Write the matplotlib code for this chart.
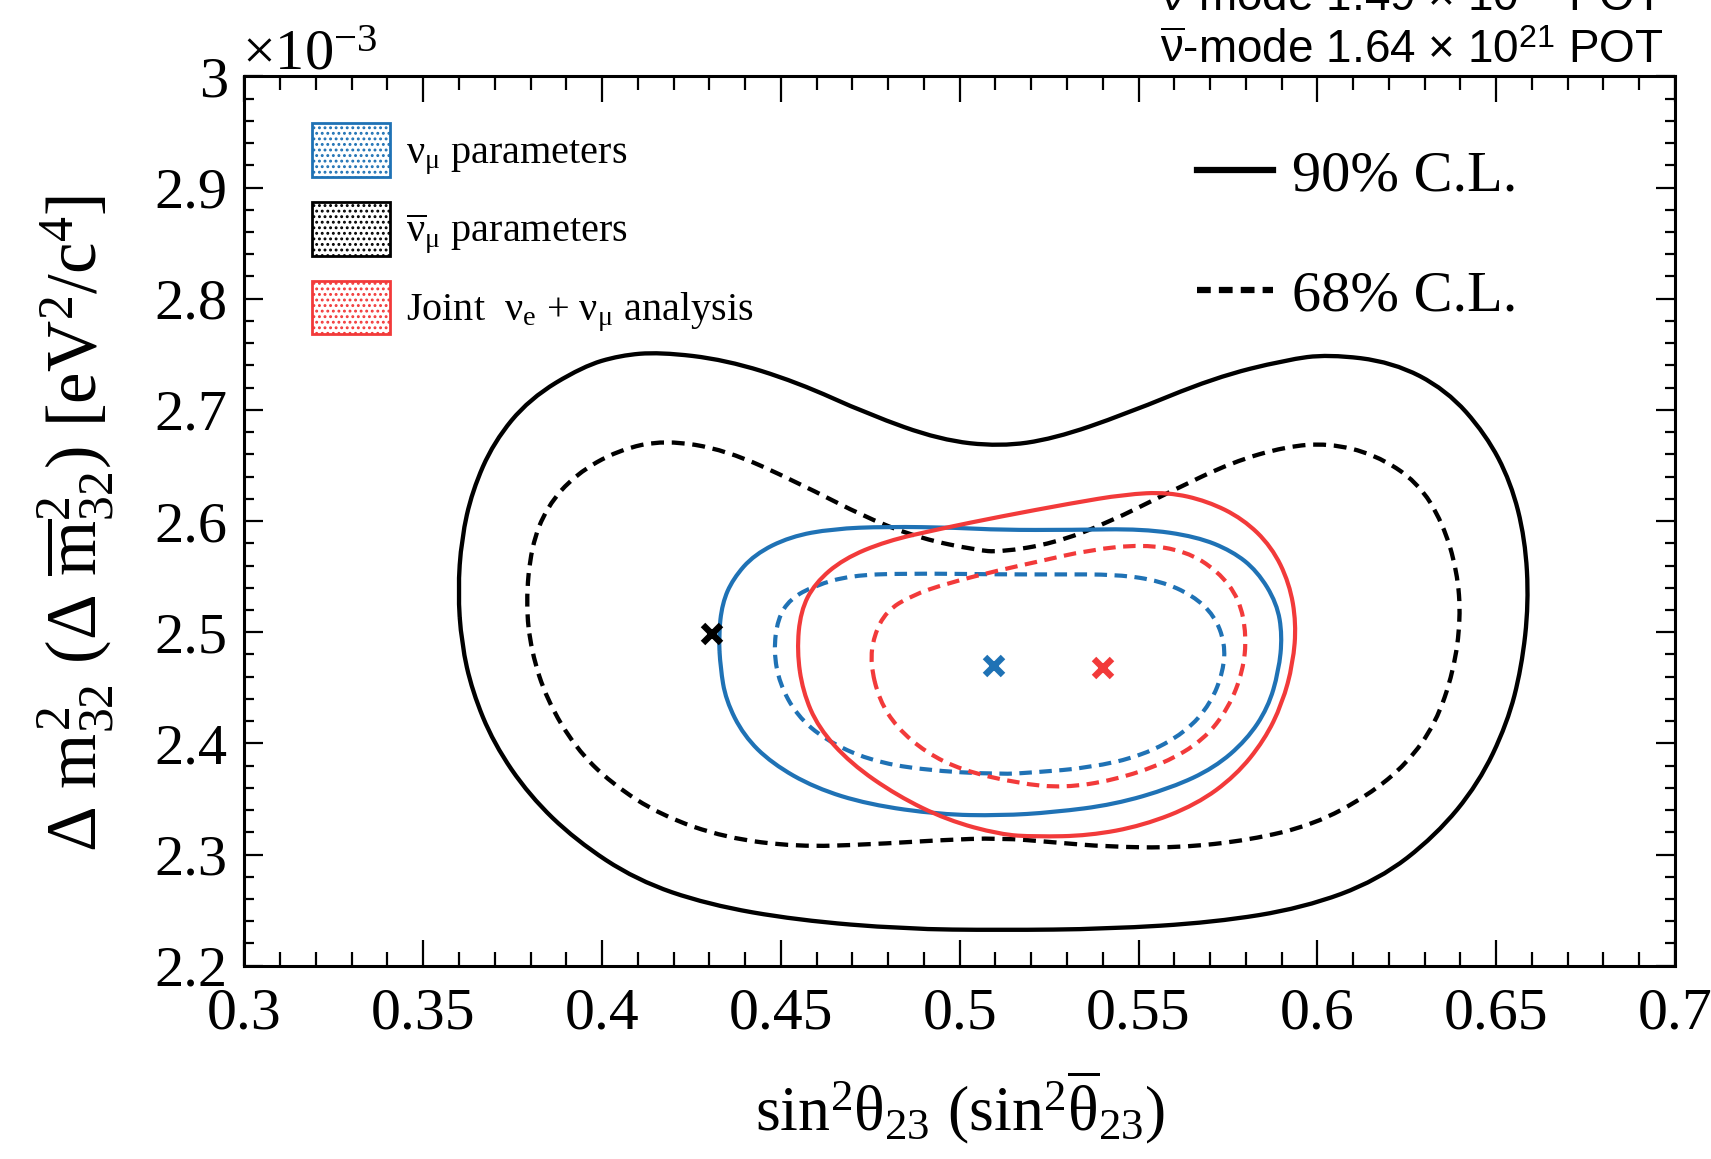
import matplotlib
matplotlib.use("Agg")
import matplotlib.pyplot as plt
from matplotlib.patches import Patch, PathPatch
from matplotlib.path import Path
from matplotlib.lines import Line2D
from matplotlib.ticker import MultipleLocator, FuncFormatter

plt.rcParams.update({
    "font.family": "Liberation Serif",
    "mathtext.fontset": "custom",
    "mathtext.rm": "Liberation Serif",
    "mathtext.it": "Liberation Serif",
    "mathtext.bf": "Liberation Serif:bold",
    "mathtext.sf": "Liberation Sans",
    "hatch.linewidth": 1.3,
})

# ---- contour data: sin^2(theta23) vs dm^2_32 [1e-3 eV^2/c^4] ----
# anti-neutrino parameters, 90% C.L.
anu90_x = [0.3597, 0.3607, 0.3637, 0.3697, 0.3797, 0.3946, 0.4050, 0.4161, 0.4346, 0.4545,
           0.4745, 0.4945, 0.5113, 0.5263, 0.5462, 0.5712, 0.5912, 0.6031, 0.6211, 0.6361,
           0.6471, 0.6541, 0.6581, 0.6591, 0.6571, 0.6531, 0.6451, 0.6331, 0.6171, 0.5961,
           0.5712, 0.5412, 0.5113, 0.4845, 0.4545, 0.4296, 0.4096, 0.3926, 0.3797, 0.3697,
           0.3637, 0.3607]
anu90_y = [2.537, 2.584, 2.627, 2.671, 2.710, 2.739, 2.749, 2.752, 2.745, 2.725,
           2.696, 2.673, 2.667, 2.674, 2.696, 2.729, 2.745, 2.750, 2.743, 2.718,
           2.678, 2.635, 2.584, 2.526, 2.468, 2.418, 2.364, 2.317, 2.277, 2.252,
           2.239, 2.233, 2.232, 2.233, 2.241, 2.255, 2.277, 2.313, 2.353, 2.400,
           2.447, 2.490]

# anti-neutrino parameters, 68% C.L.
anu68_x = [0.3787, 0.3802, 0.3846, 0.3926, 0.4046, 0.4176, 0.4346, 0.4545, 0.4745, 0.4895,
           0.5045, 0.5113, 0.5263, 0.5412, 0.5592, 0.5762, 0.5912, 0.6031, 0.6161, 0.6281,
           0.6351, 0.6391, 0.6401, 0.6381, 0.6331, 0.6251, 0.6141, 0.5991, 0.5811, 0.5612,
           0.5412, 0.5263, 0.5113, 0.4945, 0.4745, 0.4545, 0.4346, 0.4166, 0.4026, 0.3926,
           0.3846, 0.3802]
anu68_y = [2.526, 2.577, 2.613, 2.642, 2.664, 2.673, 2.664, 2.635, 2.602, 2.584,
           2.574, 2.572, 2.580, 2.598, 2.627, 2.653, 2.667, 2.670, 2.660, 2.635,
           2.598, 2.555, 2.512, 2.465, 2.418, 2.382, 2.353, 2.327, 2.313, 2.306,
           2.307, 2.311, 2.315, 2.313, 2.309, 2.307, 2.315, 2.335, 2.364, 2.396,
           2.439, 2.483]

# neutrino parameters, 90% C.L.
nu90_x = [0.4326, 0.4336, 0.4366, 0.4426, 0.4526, 0.4645, 0.4795, 0.4995, 0.5113, 0.5313,
          0.5512, 0.5662, 0.5762, 0.5832, 0.5887, 0.5902, 0.5892, 0.5862, 0.5802, 0.5712,
          0.5592, 0.5432, 0.5263, 0.5113, 0.4945, 0.4745, 0.4595, 0.4475, 0.4396, 0.4346,
          0.4331]
nu90_y = [2.497, 2.526, 2.548, 2.570, 2.586, 2.593, 2.595, 2.594, 2.592, 2.592,
          2.593, 2.586, 2.573, 2.555, 2.526, 2.497, 2.465, 2.432, 2.403, 2.378,
          2.360, 2.345, 2.338, 2.335, 2.336, 2.345, 2.360, 2.382, 2.407, 2.439,
          2.468]

# neutrino parameters, 68% C.L.
nu68_x = [0.4480, 0.4491, 0.4526, 0.4595, 0.4695, 0.4845, 0.5113, 0.5263, 0.5442, 0.5562,
          0.5652, 0.5712, 0.5742, 0.5737, 0.5702, 0.5632, 0.5512, 0.5362, 0.5212, 0.5113,
          0.4895, 0.4745, 0.4625, 0.4545, 0.4496]
nu68_y = [2.483, 2.512, 2.530, 2.542, 2.551, 2.553, 2.552, 2.552, 2.552, 2.546,
          2.533, 2.515, 2.490, 2.465, 2.436, 2.410, 2.389, 2.378, 2.374, 2.372,
          2.376, 2.385, 2.403, 2.425, 2.454]

# joint nu_e + nu_mu analysis, 90% C.L.
joint90_x = [0.4545, 0.4555, 0.4595, 0.4675, 0.4795, 0.4945, 0.5113, 0.5312, 0.5462, 0.5582,
             0.5692, 0.5792, 0.5872, 0.5922, 0.5941, 0.5932, 0.5902, 0.5852, 0.5772, 0.5662,
             0.5512, 0.5362, 0.5212, 0.5113, 0.4965, 0.4825, 0.4695, 0.4605, 0.4561]
joint90_y = [2.483, 2.519, 2.544, 2.566, 2.582, 2.593, 2.604, 2.616, 2.624, 2.626,
             2.618, 2.602, 2.577, 2.544, 2.508, 2.472, 2.436, 2.403, 2.371, 2.345,
             2.326, 2.317, 2.316, 2.318, 2.331, 2.353, 2.382, 2.414, 2.447]

# joint nu_e + nu_mu analysis, 68% C.L.
joint68_x = [0.4750, 0.4760, 0.4795, 0.4865, 0.4965, 0.5113, 0.5212, 0.5362, 0.5512, 0.5632,
             0.5722, 0.5782, 0.5802, 0.5792, 0.5752, 0.5682, 0.5572, 0.5432, 0.5292, 0.5163,
             0.5005, 0.4905, 0.4825, 0.4775]
joint68_y = [2.472, 2.497, 2.519, 2.533, 2.544, 2.556, 2.563, 2.574, 2.579, 2.573,
             2.555, 2.530, 2.497, 2.465, 2.432, 2.403, 2.382, 2.367, 2.360, 2.364,
             2.376, 2.392, 2.414, 2.439]

# best-fit points
bestfit_x = [0.4308, 0.5095, 0.5402]
bestfit_y = [2.498, 2.470, 2.468]

BLUE = "#1f72b5"
RED = "#f23a3a"
BLACK = "black"
bestfit_colors = [BLACK, BLUE, RED]

legend_labels = [r"$\nu_{\mu}$ parameters",
                 r"$\overline{\nu}_{\mu}$ parameters",
                 r"Joint  $\nu_{e}$ + $\nu_{\mu}$ analysis"]
cl_labels = ["90% C.L.", "68% C.L."]


def closed_curve(xs, ys):
    """Closed quadratic-Bezier path using the given points as control points."""
    pts = list(zip(xs, ys))
    n = len(pts)
    mids = [((pts[i][0] + pts[(i + 1) % n][0]) / 2, (pts[i][1] + pts[(i + 1) % n][1]) / 2)
            for i in range(n)]
    verts = [mids[-1]]
    codes = [Path.MOVETO]
    for i in range(n):
        verts += [pts[i], mids[i]]
        codes += [Path.CURVE3, Path.CURVE3]
    return Path(verts, codes)


W, H = 1711, 1159
fig = plt.figure(figsize=(W / 100, H / 100), dpi=100)
ax_l, ax_r, ax_t, ax_b = 244.4, 1675.0, 76.4, 965.7
ax = fig.add_axes([ax_l / W, 1 - ax_b / H, (ax_r - ax_l) / W, (ax_b - ax_t) / H])

dash = (0, (3.0, 1.8))
contours = [
    (anu68_x, anu68_y, BLACK, dash, 3.1),
    (anu90_x, anu90_y, BLACK, "solid", 3.1),
    (nu68_x, nu68_y, BLUE, dash, 3.0),
    (nu90_x, nu90_y, BLUE, "solid", 3.0),
    (joint68_x, joint68_y, RED, dash, 3.0),
    (joint90_x, joint90_y, RED, "solid", 3.0),
]
for cx, cy, col, ls, lw in contours:
    ax.add_patch(PathPatch(closed_curve(cx, cy), fill=False, edgecolor=col,
                           linewidth=lw, linestyle=ls, capstyle="butt"))

for bx, by, bc in zip(bestfit_x, bestfit_y, bestfit_colors):
    ax.plot([bx], [by], marker="x", ms=13, mew=4.6, color=bc, linestyle="none")

ax.set_xlim(0.3, 0.7)
ax.set_ylim(2.2, 3.0)
ax.xaxis.set_major_locator(MultipleLocator(0.05))
ax.xaxis.set_minor_locator(MultipleLocator(0.01))
ax.yaxis.set_major_locator(MultipleLocator(0.1))
ax.yaxis.set_minor_locator(MultipleLocator(0.02))
fmt = FuncFormatter(lambda v, p: "%g" % round(v, 3))
ax.xaxis.set_major_formatter(fmt)
ax.yaxis.set_major_formatter(fmt)

ax.tick_params(axis="both", which="both", direction="in", top=True, right=True, width=1.6)
ax.tick_params(axis="x", which="major", length=19, labelsize=43, pad=16)
ax.tick_params(axis="x", which="minor", length=10)
ax.tick_params(axis="y", which="major", length=14, labelsize=42, pad=12)
ax.tick_params(axis="y", which="minor", length=7)
for s in ax.spines.values():
    s.set_linewidth(2.2)

# axis titles
fig.text((ax_l + ax_r) / 2 / W, 1 - 1130 / H,
         r"$\mathrm{sin}^{2}\theta_{23}\ (\mathrm{sin}^{2}\overline{\theta}_{23})$",
         fontsize=46, ha="center", va="baseline")
fig.text(76 / W, 1 - 524 / H,
         r"$\Delta\ m^{2}_{32}\ (\Delta\ \overline{m}^{2}_{32})\ [\mathrm{eV}^{2}/\mathrm{c}^{4}]$",
         fontsize=51, ha="center", va="center", rotation=90)
fig.text(242 / W, 1 - 70 / H, r"$\times10^{-3}$", fontsize=42, ha="left", va="baseline")

# exposure
fig.text(1664 / W, 1 - 11 / H, r"$\mathsf{\nu}$-mode 1.49 × 10$^{\mathsf{21}}$ POT",
         fontsize=33, family="Liberation Sans", ha="right", va="baseline")
fig.text(1664 / W, 1 - 63 / H, r"$\mathsf{\overline{\nu}}$-mode 1.64 × 10$^{\mathsf{21}}$ POT",
         fontsize=33, family="Liberation Sans", ha="right", va="baseline")

# legends
patches = [Patch(facecolor="white", edgecolor=c, hatch="...", linewidth=2.0)
           for c in (BLUE, BLACK, RED)]
leg1 = ax.legend(patches, legend_labels, loc="upper left",
                 bbox_to_anchor=(312 / W, 1 - 123 / H), bbox_transform=fig.transFigure,
                 frameon=False, fontsize=29, borderpad=0, borderaxespad=0,
                 handlelength=1.94, handleheight=1.68, handletextpad=0.40, labelspacing=0.62)
ax.add_artist(leg1)

cl_handles = [Line2D([], [], color=BLACK, lw=4.5),
              Line2D([], [], color=BLACK, lw=4.5, linestyle=(0, (2.2, 1.3)))]
ax.legend(cl_handles, cl_labels, loc="upper left",
          bbox_to_anchor=(1197 / W, 1 - 150 / H), bbox_transform=fig.transFigure,
          frameon=False, fontsize=42, borderpad=0, borderaxespad=0,
          handlelength=1.3, handletextpad=0.33, labelspacing=1.15)

fig.savefig("out.png", dpi=100)
